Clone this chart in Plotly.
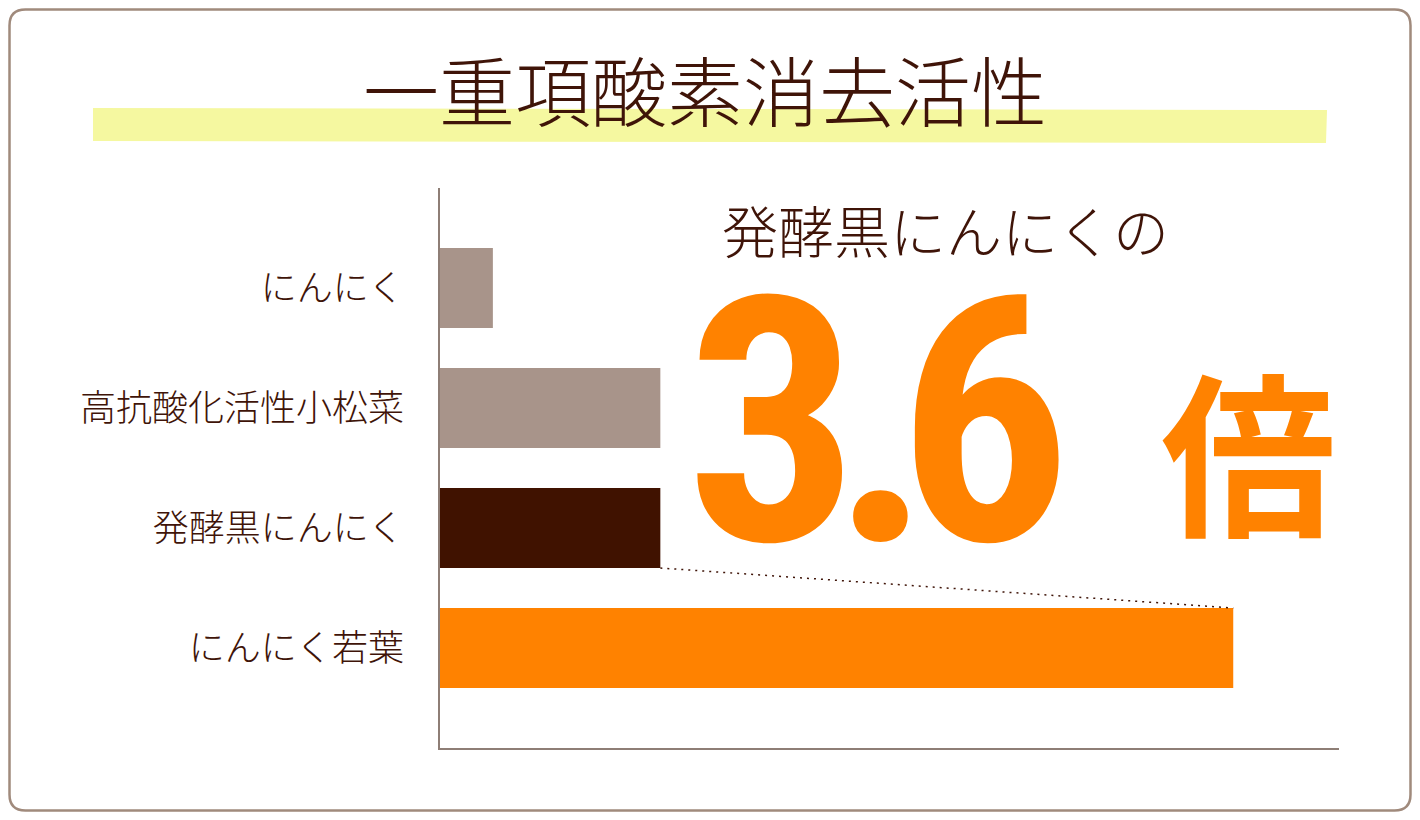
import plotly.graph_objects as go

### DATA ###
categories = ['にんにく', '高抗酸化活性小松菜', '発酵黒にんにく', 'にんにく若葉']
values = [0.24, 1.0, 1.0, 3.6]   # relative to 発酵黒にんにく
bar_colors = ['#a8948a', '#a8948a', '#401200', '#ff8200']
title_text = '一重項酸素消去活性'
callout_text = '発酵黒にんにくの'
ratio_text = '3.6'
ratio_unit = '倍'

# the page body adds an 8px margin all round, so shrink the figure
# and draw everything 8px up/left to keep the reference positions
OFF = 8
W, H = 1420 - 2 * OFF, 820 - 2 * OFF
PLOT_L, PLOT_R, PLOT_T, PLOT_B = 440 - OFF, 1339 - OFF, 188 - OFF, 748 - OFF

TEXT = '#3f1408'
AXIS = '#8e7e76'
ORANGE = '#ff8200'
JP = 'Noto Sans CJK JP'
DIGITS = 'Roboto Condensed, Liberation Sans Narrow, Roboto'


def px(x):
    # reference pixel x -> paper x
    return (x - OFF - PLOT_L) / (PLOT_R - PLOT_L)


def py(y):
    # reference pixel y -> paper y
    return (PLOT_B - (y - OFF)) / (PLOT_B - PLOT_T)


def label(text, x, y, size, color=TEXT, family=JP, weight=300):
    return dict(text=text, x=px(x), y=py(y), xref='paper', yref='paper',
                xanchor='center', yanchor='middle', showarrow=False,
                font=dict(family=family, size=size, color=color, weight=weight))


ypos = list(range(len(categories)))
bar_w = 2 / 3

fig = go.Figure(go.Bar(
    x=values, y=ypos, orientation='h',
    width=bar_w,
    marker=dict(color=bar_colors, line=dict(width=0)),
    hoverinfo='skip',
))

# rounded frame, as close to the page edge as the body margin allows
r = 16
x0, x1, y0, y1 = OFF + 1.5, 1420 - OFF - 1.5, OFF + 1.5, 820 - OFF - 1.5
frame = (f"M {px(x0 + r)} {py(y0)} L {px(x1 - r)} {py(y0)} "
         f"Q {px(x1)} {py(y0)} {px(x1)} {py(y0 + r)} "
         f"L {px(x1)} {py(y1 - r)} Q {px(x1)} {py(y1)} {px(x1 - r)} {py(y1)} "
         f"L {px(x0 + r)} {py(y1)} Q {px(x0)} {py(y1)} {px(x0)} {py(y1 - r)} "
         f"L {px(x0)} {py(y0 + r)} Q {px(x0)} {py(y0)} {px(x0 + r)} {py(y0)} Z")

# yellow marker stroke behind the title
hl = (f"M {px(93)} {py(108)} L {px(1327)} {py(110)} "
      f"L {px(1326)} {py(143)} L {px(93)} {py(141)} Z")

# dotted guide from 発酵黒にんにく bar end to にんにく若葉 bar end
i_a, i_b = 2, 3
shapes = [
    dict(type='path', path=hl, xref='paper', yref='paper',
         fillcolor='#f5f8a0', line=dict(width=0), layer='below'),
    dict(type='path', path=frame, xref='paper', yref='paper',
         fillcolor='rgba(0,0,0,0)', line=dict(color='#a08a7c', width=2.5)),
    dict(type='line', xref='x', yref='y',
         x0=values[i_a], y0=ypos[i_a] + bar_w / 2,
         x1=values[i_b], y1=ypos[i_b] - bar_w / 2,
         line=dict(color=TEXT, width=1.5, dash='2px,5px')),
]

annotations = [
    label(title_text, 705, 88, 76),
    label(callout_text, 945, 229, 56),
    label(ratio_unit, 1248, 446, 175, color=ORANGE, weight='bold'),
]
# big ratio, one glyph at a time so the digits sit where the original has them
for ch, cx in zip(ratio_text, [772, 881, 984]):
    annotations.append(label(ch, cx, 423, 342, color=ORANGE, family=DIGITS, weight='bold'))

layout = go.Layout(
    width=W, height=H,
    margin=dict(l=PLOT_L, r=W - PLOT_R, t=PLOT_T, b=H - PLOT_B, pad=0),
    paper_bgcolor='white', plot_bgcolor='white',
    showlegend=False,
    xaxis=dict(range=[0, 4.08], showgrid=False, zeroline=False,
               showticklabels=False, ticks='', showline=True,
               linecolor=AXIS, linewidth=1.5, fixedrange=True),
    yaxis=dict(range=[len(categories) - 1 + 0.8333, -0.8333],
               tickmode='array', tickvals=ypos, ticktext=categories,
               showgrid=False, zeroline=False, ticks='', showline=True,
               linecolor=AXIS, linewidth=1.5, ticklabelstandoff=27,
               tickfont=dict(family=JP, size=36, color=TEXT, weight=300),
               fixedrange=True),
    shapes=shapes,
    annotations=annotations,
)
fig.update_layout(layout)

fig.write_html("out.html")
